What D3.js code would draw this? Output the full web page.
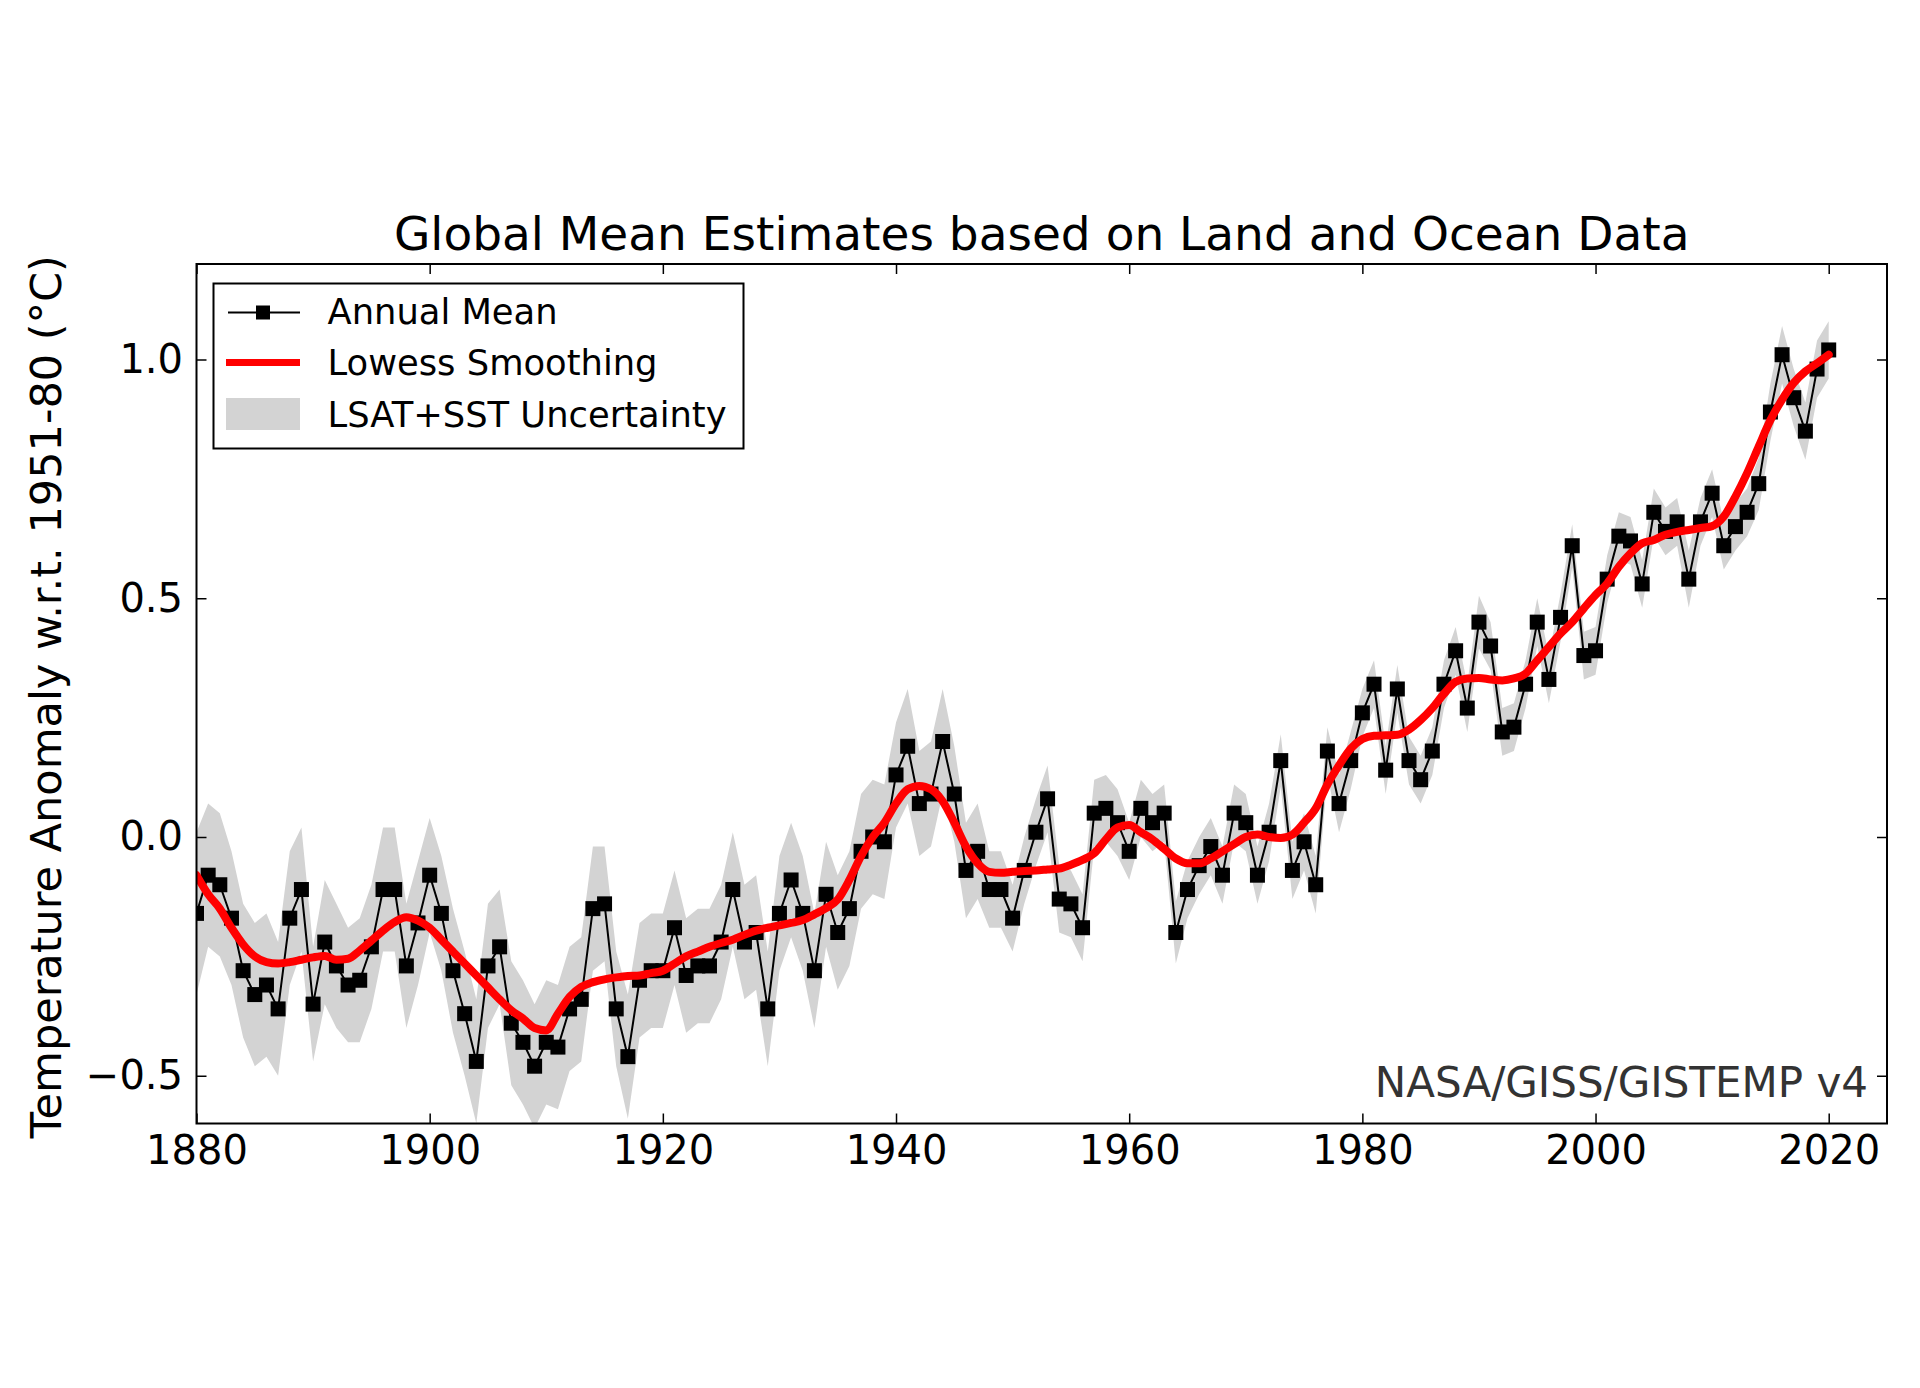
<!DOCTYPE html>
<html><head><meta charset="utf-8">
<script src="https://cdn.jsdelivr.net/npm/d3@7"></script>
<style>
body{margin:0;background:#fff}
svg{display:block}
text{font-family:"DejaVu Sans","Liberation Sans",sans-serif}
</style>
</head><body>
<svg id="chart" width="1920" height="1388"></svg>
<script>
// ---------- data ----------
const yearStart = 1880, yearEnd = 2020;
const years = d3.range(yearStart, yearEnd + 1);

const annualMean = [
 -0.16,-0.08,-0.10,-0.17,-0.28,-0.33,-0.31,-0.36,-0.17,-0.11,
 -0.35,-0.22,-0.27,-0.31,-0.30,-0.23,-0.11,-0.11,-0.27,-0.18,
 -0.08,-0.16,-0.28,-0.37,-0.47,-0.27,-0.23,-0.39,-0.43,-0.48,
 -0.43,-0.44,-0.36,-0.34,-0.15,-0.14,-0.36,-0.46,-0.30,-0.28,
 -0.28,-0.19,-0.29,-0.27,-0.27,-0.22,-0.11,-0.22,-0.20,-0.36,
 -0.16,-0.09,-0.16,-0.28,-0.12,-0.20,-0.15,-0.03, 0.00,-0.01,
  0.13, 0.19, 0.07, 0.09, 0.20, 0.09,-0.07,-0.03,-0.11,-0.11,
 -0.17,-0.07, 0.01, 0.08,-0.13,-0.14,-0.19, 0.05, 0.06, 0.03,
 -0.03, 0.06, 0.03, 0.05,-0.20,-0.11,-0.06,-0.02,-0.08, 0.05,
  0.03,-0.08, 0.01, 0.16,-0.07,-0.01,-0.10, 0.18, 0.07, 0.16,
  0.26, 0.32, 0.14, 0.31, 0.16, 0.12, 0.18, 0.32, 0.39, 0.27,
  0.45, 0.40, 0.22, 0.23, 0.32, 0.45, 0.33, 0.46, 0.61, 0.38,
  0.39, 0.54, 0.63, 0.62, 0.53, 0.68, 0.64, 0.66, 0.54, 0.66,
  0.72, 0.61, 0.65, 0.68, 0.74, 0.89, 1.01, 0.92, 0.85, 0.98, 1.02
];

const lowess = [
 -0.080,-0.120,-0.150,-0.190,-0.225,-0.250,-0.262,-0.265,-0.262,-0.257,
 -0.252,-0.249,-0.257,-0.255,-0.238,-0.217,-0.196,-0.178,-0.168,-0.175,
 -0.190,-0.215,-0.240,-0.265,-0.290,-0.315,-0.340,-0.363,-0.380,-0.400,
 -0.405,-0.370,-0.335,-0.314,-0.304,-0.298,-0.294,-0.291,-0.290,-0.285,
 -0.280,-0.265,-0.250,-0.240,-0.230,-0.222,-0.215,-0.205,-0.196,-0.190,
 -0.185,-0.180,-0.174,-0.162,-0.149,-0.131,-0.090,-0.040, 0.000, 0.030,
  0.070, 0.100, 0.107, 0.100, 0.075, 0.030,-0.020,-0.055,-0.073,-0.075,
 -0.073,-0.071,-0.070,-0.068,-0.066,-0.058,-0.048,-0.034,-0.005, 0.020,
  0.025, 0.010,-0.005,-0.025,-0.045,-0.055,-0.055,-0.045,-0.030,-0.015,
  0.000, 0.005, 0.000,-0.002, 0.005, 0.030, 0.060, 0.110, 0.150, 0.185,
  0.205, 0.212, 0.213, 0.214, 0.225, 0.245, 0.270, 0.300, 0.325, 0.332,
  0.333, 0.330, 0.328, 0.332, 0.342, 0.370, 0.398, 0.426, 0.450, 0.479,
  0.507, 0.531, 0.566, 0.594, 0.615, 0.622, 0.633, 0.639, 0.643, 0.647,
  0.651, 0.671, 0.713, 0.762, 0.818, 0.873, 0.916, 0.951, 0.975, 0.992, 1.010
];

// half-width of the LSAT+SST uncertainty band (°C)
const uncertainty = [
 0.17,0.15,0.15,0.14,0.14,0.15,0.15,0.14,0.14,0.13,
 0.12,0.13,0.13,0.12,0.13,0.13,0.13,0.13,0.13,0.13,
 0.12,0.12,0.13,0.13,0.13,0.13,0.12,0.13,0.13,0.13,
 0.13,0.13,0.13,0.13,0.13,0.12,0.12,0.13,0.12,0.12,
 0.12,0.12,0.12,0.12,0.12,0.12,0.12,0.12,0.12,0.12,
 0.12,0.12,0.12,0.12,0.11,0.12,0.12,0.12,0.12,0.12,
 0.11,0.12,0.11,0.11,0.11,0.10,0.10,0.10,0.08,0.08,
 0.07,0.07,0.07,0.07,0.07,0.07,0.07,0.07,0.07,0.07,
 0.06,0.06,0.06,0.06,0.065,0.06,0.06,0.06,0.06,0.06,
 0.06,0.06,0.06,0.055,0.06,0.06,0.06,0.05,0.06,0.06,
 0.05,0.05,0.05,0.05,0.05,0.05,0.05,0.05,0.05,0.05,
 0.055,0.05,0.05,0.05,0.05,0.05,0.05,0.05,0.045,0.05,
 0.05,0.05,0.05,0.05,0.05,0.05,0.05,0.05,0.06,0.05,
 0.05,0.05,0.05,0.05,0.055,0.06,0.06,0.06,0.06,0.06,0.06
];

const xTicks = [1880, 1900, 1920, 1940, 1960, 1980, 2000, 2020];
const yTicks = [-0.5, 0.0, 0.5, 1.0];
const yTickLabels = ["\u22120.5", "0.0", "0.5", "1.0"];
const legendLabels = ["Annual Mean", "Lowess Smoothing", "LSAT+SST Uncertainty"];
const titleText = "Global Mean Estimates based on Land and Ocean Data";
const yLabelText = "Temperature Anomaly w.r.t. 1951-80 (\u00B0C)";
const creditText = "NASA/GISS/GISTEMP v4";

// ---------- layout ----------
const L = 196.5, R = 1887, T = 264, B = 1123.5;
const svg = d3.select("#chart");
svg.append("rect").attr("width", 1920).attr("height", 1388).attr("fill", "#fff");

const x = d3.scaleLinear().domain([1880, 2025]).range([L, R]);
const y = d3.scaleLinear().domain([-0.6, 1.2]).range([B, T]);

const rows = years.map((yr, i) => ({
  year: yr, v: annualMean[i], s: lowess[i],
  lo: annualMean[i] - uncertainty[i], hi: annualMean[i] + uncertainty[i]
}));

svg.append("clipPath").attr("id", "clip")
  .append("rect").attr("x", L).attr("y", T).attr("width", R - L).attr("height", B - T);

const plot = svg.append("g").attr("clip-path", "url(#clip)");

// uncertainty band
plot.append("path").datum(rows)
  .attr("fill", "#d3d3d3")
  .attr("d", d3.area().x(d => x(d.year)).y0(d => y(d.lo)).y1(d => y(d.hi)));

// annual mean line + markers
plot.append("path").datum(rows)
  .attr("fill", "none").attr("stroke", "#000").attr("stroke-width", 2)
  .attr("d", d3.line().x(d => x(d.year)).y(d => y(d.v)));
const ms = 15;
plot.selectAll("rect.m").data(rows).join("rect").attr("class", "m")
  .attr("x", d => x(d.year) - ms / 2).attr("y", d => y(d.v) - ms / 2)
  .attr("width", ms).attr("height", ms).attr("fill", "#000");

// lowess
plot.append("path").datum(rows)
  .attr("fill", "none").attr("stroke", "#ff0000").attr("stroke-width", 8)
  .attr("stroke-linejoin", "round").attr("stroke-linecap", "round")
  .attr("d", d3.line().curve(d3.curveMonotoneX).x(d => x(d.year)).y(d => y(d.s)));

// ---------- axes ----------
const tickLen = 10;
function styleAxis(g) {
  g.select(".domain").remove();
  g.selectAll(".tick line").attr("stroke", "#000").attr("stroke-width", 1.5);
  g.selectAll(".tick text").attr("font-size", 40).attr("fill", "#000")
    .attr("font-family", "DejaVu Sans");
}
svg.append("g").attr("transform", `translate(0,${B})`)
  .call(d3.axisBottom(x).tickValues(xTicks).tickFormat(d3.format("d"))
    .tickSizeInner(-tickLen).tickSizeOuter(0).tickPadding(12))
  .call(styleAxis);
svg.append("g").attr("transform", `translate(0,${T})`)
  .call(d3.axisTop(x).tickValues(xTicks).tickFormat("")
    .tickSizeInner(-tickLen).tickSizeOuter(0))
  .call(styleAxis);
svg.append("g").attr("transform", `translate(${L},0)`)
  .call(d3.axisLeft(y).tickValues(yTicks).tickFormat((d, i) => yTickLabels[i])
    .tickSizeInner(-tickLen).tickSizeOuter(0).tickPadding(13.5))
  .call(styleAxis);
svg.append("g").attr("transform", `translate(${R},0)`)
  .call(d3.axisRight(y).tickValues(yTicks).tickFormat("")
    .tickSizeInner(-tickLen).tickSizeOuter(0))
  .call(styleAxis);

// frame
svg.append("rect").attr("x", L).attr("y", T).attr("width", R - L).attr("height", B - T)
  .attr("fill", "none").attr("stroke", "#000").attr("stroke-width", 2);

// title
svg.append("text").attr("x", (L + R) / 2).attr("y", 250)
  .attr("text-anchor", "middle").attr("font-size", 47).attr("fill", "#000")
  .text(titleText);

// y label
svg.append("text")
  .attr("transform", `translate(61,${(T + B) / 2 + 3}) rotate(-90)`)
  .attr("text-anchor", "middle").attr("font-size", 43).attr("fill", "#000")
  .text(yLabelText);

// credit
svg.append("text").attr("x", 1868).attr("y", 1097)
  .attr("text-anchor", "end").attr("font-size", 42).attr("fill", "#333")
  .text(creditText);

// ---------- legend ----------
const lg = svg.append("g");
lg.append("rect").attr("x", 213.5).attr("y", 283.5).attr("width", 530).attr("height", 165)
  .attr("fill", "#fff").attr("stroke", "#000").attr("stroke-width", 2);
const rowBase = [323.5, 375, 426.5];
const hx0 = 226, hx1 = 300;
legendLabels.forEach((lab, i) => {
  const cy = rowBase[i] - 12.5;
  if (i === 0) {
    lg.append("line").attr("x1", hx0 + 2).attr("x2", hx1).attr("y1", cy + 1.5).attr("y2", cy + 1.5)
      .attr("stroke", "#000").attr("stroke-width", 2);
    lg.append("rect").attr("x", (hx0 + hx1) / 2 - 7).attr("y", cy + 1.5 - 7)
      .attr("width", 14).attr("height", 14).attr("fill", "#000");
  } else if (i === 1) {
    lg.append("line").attr("x1", hx0).attr("x2", hx1).attr("y1", cy).attr("y2", cy)
      .attr("stroke", "#ff0000").attr("stroke-width", 7);
  } else {
    lg.append("rect").attr("x", hx0).attr("y", cy - 16).attr("width", hx1 - hx0).attr("height", 32)
      .attr("fill", "#d3d3d3");
  }
  lg.append("text").attr("x", 327.5).attr("y", rowBase[i])
    .attr("font-size", 35.3).attr("fill", "#000").text(lab);
});
</script>
</body></html>
